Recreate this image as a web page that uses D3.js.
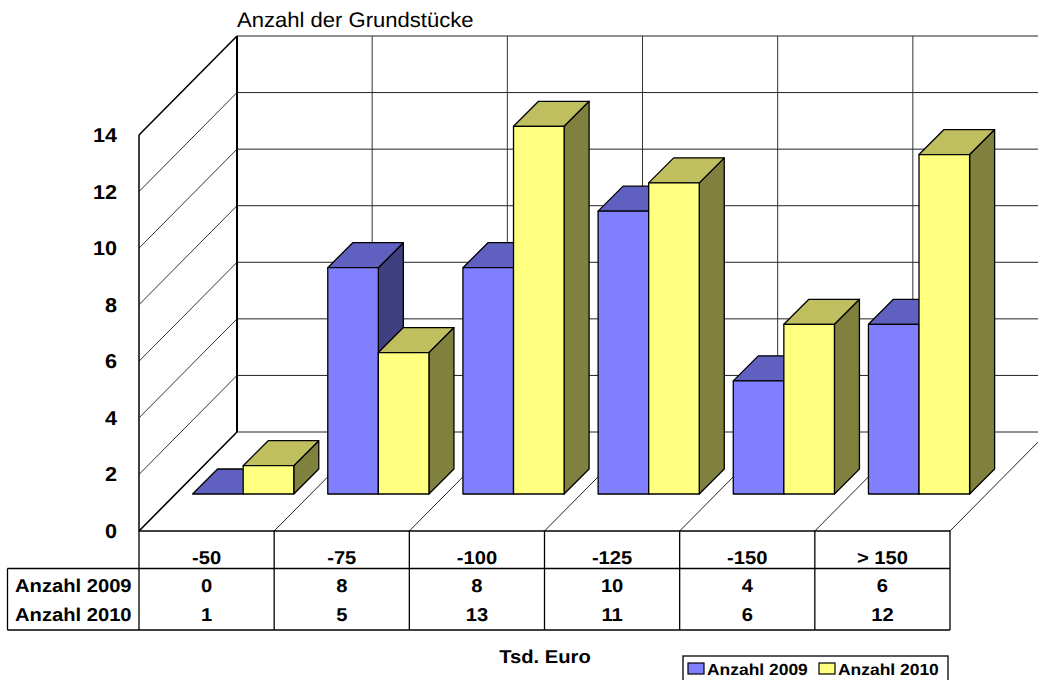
<!DOCTYPE html>
<html><head><meta charset="utf-8">
<style>html,body{margin:0;padding:0;background:#fff;overflow:hidden}svg{display:block}text{font-family:"Liberation Sans",Arial,sans-serif;fill:#000;text-rendering:geometricPrecision}</style>
<script src="https://cdn.jsdelivr.net/npm/d3@7/dist/d3.min.js"></script>
</head><body><svg id="c" width="1038" height="680"></svg>
<script>
const categories = ["-50","-75","-100","-125","-150","> 150"];
const series2009 = [0,8,8,10,4,6];
const series2010 = [1,5,13,11,6,12];
const seriesNames = ["Anzahl 2009","Anzahl 2010"];
const yTicks = [0,2,4,6,8,10,12,14];
const title = "Anzahl der Grundstücke";
const xTitle = "Tsd. Euro";
const colors = {front:["#8080ff","#ffff80"],top:["#6060c0","#bfbf60"],side:["#404080","#80803f"]};

const svg = d3.select("#c");
const x = d3.scaleBand().domain(categories).range([139,950]).paddingInner(0).paddingOuter(0);
const y = d3.scaleLinear().domain([0,14]).range([531,135]);
const depth = {dx:98,dy:-99};
const barD = {start:37,len:25};
const barPad = 17;
const barShift = 36.6;
const bw = (x.step()-2*barPad)/2;
const h0 = y(0);

function line(x1,y1,x2,y2,w=1,c="#000"){
  svg.append("line").attr("x1",x1).attr("y1",y1).attr("x2",x2).attr("y2",y2)
    .attr("stroke",c).attr("stroke-width",w);
}
function text(s,px,py,size,weight,anchor="middle",stretch=1.05){
  return svg.append("text").text(s)
    .attr("transform",`translate(${px},${py}) scale(${stretch},1)`)
    .attr("font-size",size).attr("font-weight",weight).attr("text-anchor",anchor);
}
// walls
const right = 950;
yTicks.forEach(t=>{
  const yy=y(t);
  line(139,yy,139+depth.dx,yy+depth.dy,t===14||t===0?1.6:1, t===14||t===0?"#000":"#333");
  line(139+depth.dx,yy+depth.dy,right+depth.dx,yy+depth.dy,1,"#222");
});
// back vertical grid
categories.forEach((c,i)=>{
  if(i>0){
    const xx=x(c)+depth.dx;
    line(xx,y(0)+depth.dy,xx,y(14)+depth.dy,1,"#333");
    line(x(c),h0,x(c)+depth.dx,h0+depth.dy,1,"#222");
  }
});
line(right,h0,right+depth.dx,h0+depth.dy,1,"#222");
line(139+depth.dx,y(0)+depth.dy,139+depth.dx,y(14)+depth.dy,2);
line(139,y(0),139,y(14),1.5);

// bars
const base = h0-barD.start;
const x0 = c=>x(c)+barPad+barShift;
function bar(c,v,k){
  const l=x0(c)+k*bw, r=l+bw, d=barD.len, vh=y(0)-y(v), t=base-vh;
  const g=svg.append("g").attr("stroke","#000").attr("stroke-width",1.3).attr("stroke-linejoin","round");
  if(v>0) g.append("polygon").attr("fill",colors.side[k])
    .attr("points",[[r,t],[r+d,t-d],[r+d,base-d],[r,base]].join(" "));
  g.append("polygon").attr("fill",colors.top[k])
    .attr("points",[[l,t],[l+d,t-d],[r+d,t-d],[r,t]].join(" "));
  if(v>0) g.append("rect").attr("fill",colors.front[k]).attr("x",l).attr("y",t).attr("width",bw).attr("height",vh);
}
categories.forEach((c,i)=>{ bar(c,series2009[i],0); bar(c,series2010[i],1); });

// y labels
yTicks.forEach(t=>text(t,117,y(t)+7,20,"bold","end",1.08));

// title
text(title,237,27,21,"normal","start",1.05);

// data table
const tRow = 568.5, tBot = 630;
line(139,h0,950,h0,1.3);
line(7.5,tRow,950,tRow,1.3);
line(7.5,tBot,950,tBot,1.3);
line(7.5,tRow,7.5,tBot,1.3);
categories.forEach(c=>line(x(c),h0,x(c),tBot,1.3));
line(950,h0,950,tBot,1.3);
categories.forEach((c,i)=>{
  const cx=x(c)+x.bandwidth()/2;
  text(c,cx,563.5,18.5,"bold","middle",1.09);
  text(series2009[i],cx,591.5,18.5,"bold","middle",1.09);
  text(series2010[i],cx,621,18.5,"bold","middle",1.09);
});
text(seriesNames[0],15,591.5,18.5,"bold","start",1.09);
text(seriesNames[1],15,621,18.5,"bold","start",1.09);

// x title
text(xTitle,545,663,18.5,"bold","middle",1.09);

// legend
svg.append("rect").attr("x",683).attr("y",656).attr("width",265).attr("height",26).attr("fill","#fff").attr("stroke","#000").attr("stroke-width",1.3);
[[688,707],[819,838]].forEach((p,k)=>{
  svg.append("rect").attr("x",p[0]).attr("y",663).attr("width",16).attr("height",11)
    .attr("fill",colors.front[k]).attr("stroke","#000").attr("stroke-width",1.2);
  text(seriesNames[k],p[1],675,16,"bold","start",1.09);
});
</script></body></html>
